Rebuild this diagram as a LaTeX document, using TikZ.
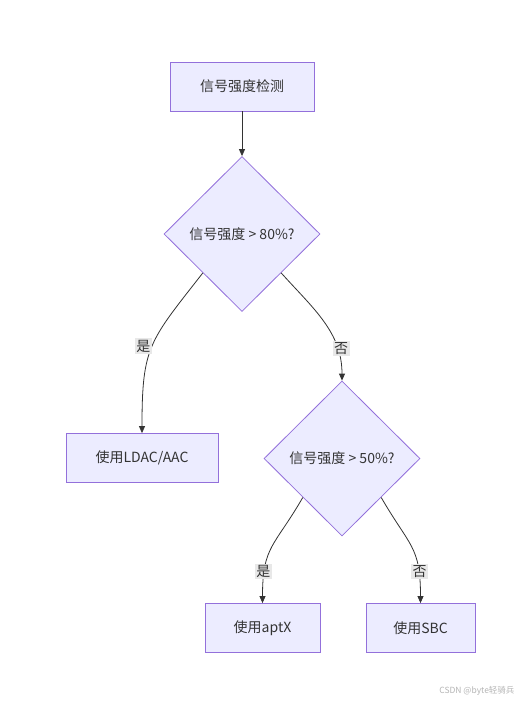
\documentclass[tikz,border=0pt]{standalone}
\usepackage{fontspec}
\setmainfont{Noto Sans CJK SC}
\usetikzlibrary{arrows.meta,shapes.geometric}
\definecolor{sigFill}{HTML}{ECECFF}
\definecolor{sigLine}{HTML}{9370DB}
\definecolor{sigEdge}{HTML}{333333}
\definecolor{sigTag}{HTML}{E8E8E8}
\definecolor{sigMark}{HTML}{B4B4B4}
\tikzset{
  sig box/.style={rectangle, draw=sigLine, fill=sigFill, line width=0.8pt, minimum height=49pt, inner sep=0pt, font=\fontsize{14}{16}\selectfont, text=sigEdge},
  sig decision/.style={diamond, draw=sigLine, fill=sigFill, line width=0.8pt, minimum width=156pt, minimum height=155pt, inner sep=0pt, font=\fontsize{14}{16}\selectfont, text=sigEdge},
  sig edge/.style={draw=sigEdge, line width=0.8pt, looseness=1.3, -{Triangle[length=7pt,width=6pt]}},
  sig tag/.style={fill=sigTag, inner sep=1.5pt, font=\fontsize{14}{16}\selectfont, text=sigEdge},
}

\begin{document}
\begin{tikzpicture}[x=1pt, y=-1pt]
  \useasboundingbox (0,0) rectangle (526,705);

  % nodes
  \node[sig box, minimum width=144pt] (detect) at (242,86.5) {信号强度检测};
  \node[sig decision] (high) at (242,234) {信号强度 > 80\%?};
  \node[sig box, minimum width=152pt] (ldac) at (142,458) {使用LDAC/AAC};
  \node[sig decision] (mid) at (342,458.5) {信号强度 > 50\%?};
  \node[sig box, minimum width=115pt] (aptx) at (262.5,628) {使用aptX};
  \node[sig box, minimum width=109pt] (sbc) at (420.5,628) {使用SBC};

  % connectors
  \draw[sig edge] (detect) -- (high);
  \draw[sig edge] (high.south west) to[out=-128, in=90] node[sig tag, pos=0.5, xshift=-9pt] {是} (ldac.north);
  \draw[sig edge] (high.south east) to[out=-48, in=90, looseness=1] node[sig tag, pos=0.75, xshift=4pt] {否} (mid.north);
  \draw[sig edge] (mid.south west) to[out=-120, in=90] node[sig tag, pos=0.77, xshift=-1pt] {是} (aptx.north);
  \draw[sig edge] (mid.south east) to[out=-60, in=90] node[sig tag, pos=0.77, xshift=1pt] {否} (sbc.north);

  \node[anchor=east, font=\fontsize{8.5}{10}\selectfont, text=sigMark] (mark) at (518,691) {CSDN @byte轻骑兵};
\end{tikzpicture}
\end{document}
